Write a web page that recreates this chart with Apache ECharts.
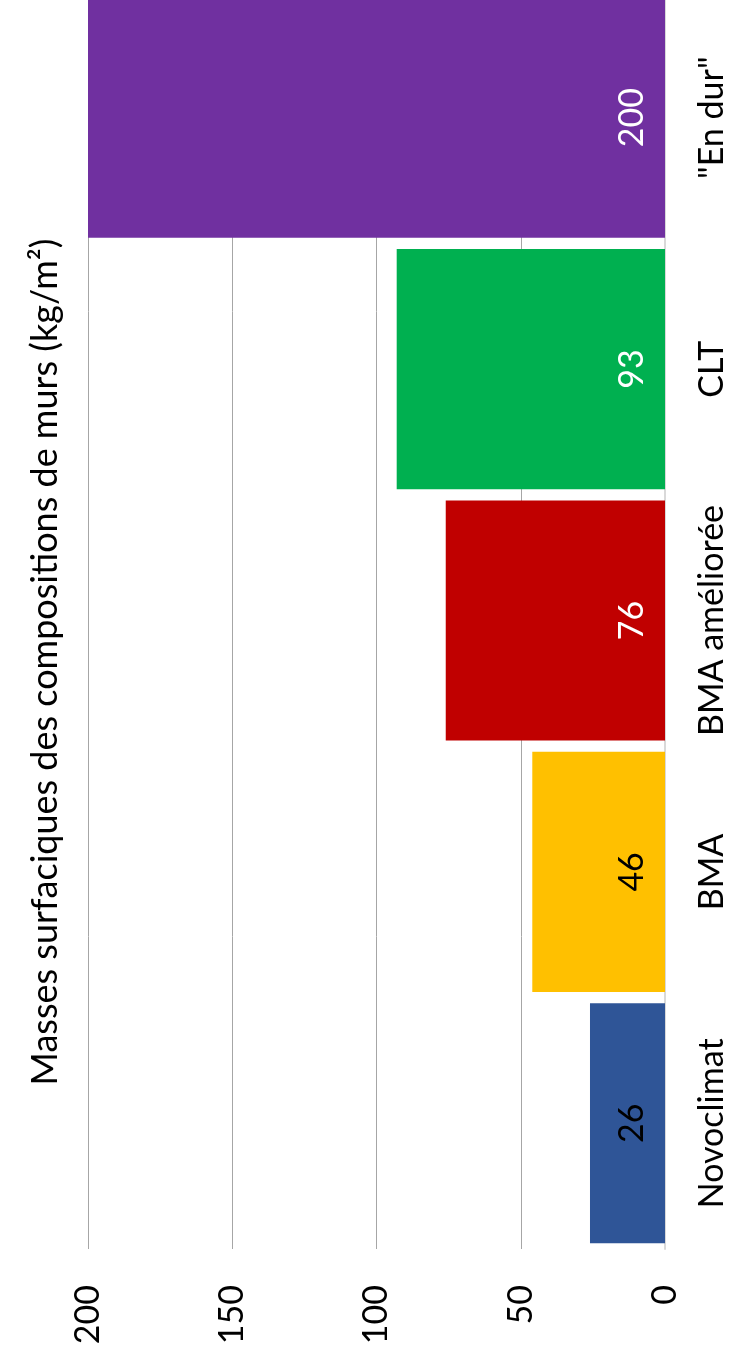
<!DOCTYPE html>
<html><head><meta charset="utf-8">
<script src="https://cdn.jsdelivr.net/npm/echarts@6/dist/echarts.min.js"></script>
<style>html,body{margin:0;padding:0;background:#fff;}#c{width:729px;height:1357px;}</style>
</head><body><div id="c"></div>
<script>
const categories = ['Novoclimat', 'BMA', 'BMA améliorée', 'CLT', '"En dur"'];
const values = [26, 46, 76, 93, 200];
const valueTicks = [0, 50, 100, 150, 200];
const titleText = 'Masses surfaciques des compositions de murs (kg/m²)';

const barColors = ['#2F5597', '#FFC000', '#C00000', '#00B050', '#7030A0'];
const labelColors = ['#000000', '#000000', '#ffffff', '#ffffff', '#ffffff'];
const FONT = 'Lato';

const chart = echarts.init(document.getElementById('c'));
chart.setOption({
  animation: false,
  textStyle: {fontFamily: FONT},
  grid: {left: 88, right: 64, top: -8, bottom: 108, outerBoundsMode: 'none', containLabel: false},
  graphic: [{
    type: 'text', x: 45, y: 662, rotation: Math.PI / 2,
    style: {text: titleText, fontFamily: FONT, fontSize: 36, fill: '#000', align: 'center', verticalAlign: 'middle'}
  }],
  xAxis: {
    type: 'value', inverse: true, min: valueTicks[0], max: valueTicks[valueTicks.length - 1],
    interval: valueTicks[1] - valueTicks[0],
    axisLine: {show: false}, axisTick: {show: false},
    splitLine: {lineStyle: {color: '#a6a6a6', width: 1}},
    axisLabel: {rotate: 90, margin: 36, fontSize: 34, color: '#000', fontFamily: FONT}
  },
  yAxis: {
    type: 'category', position: 'right', data: categories,
    axisLine: {show: true, lineStyle: {color: '#d9d9d9', width: 2}},
    axisTick: {show: false},
    axisLabel: {rotate: 90, margin: 30, fontSize: 34, color: '#000', fontFamily: FONT, interval: 0, hideOverlap: false}
  },
  series: [{
    type: 'bar', barCategoryGap: '4.5%',
    data: values.map((v, i) => ({value: v, itemStyle: {color: barColors[i]}, label: {color: labelColors[i]}})),
    label: {show: true, position: 'insideRight', distance: 33, rotate: 90, align: 'center', verticalAlign: 'middle', fontSize: 34, fontFamily: FONT}
  }]
});
</script></body></html>
